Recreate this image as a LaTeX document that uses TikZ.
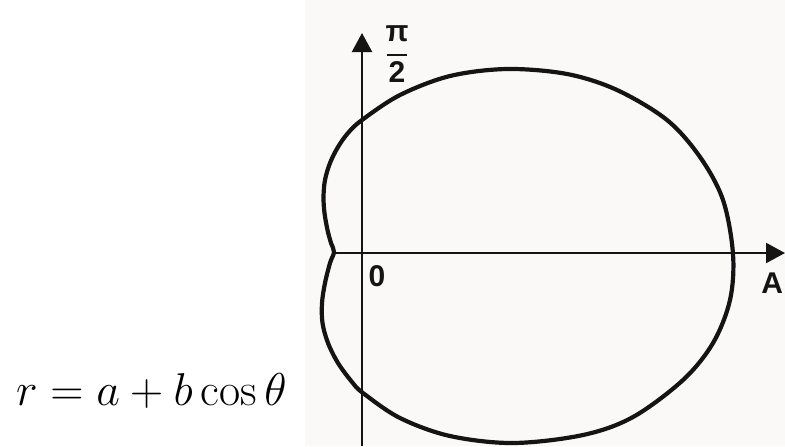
\RequirePackage{fix-cm}
\documentclass[tikz,border=0pt]{standalone}
\usepackage{fontspec}
\setsansfont{Liberation Sans}
\usetikzlibrary{arrows.meta}
\definecolor{cink}{HTML}{141414}
\definecolor{cpaper}{HTML}{FAF9F7}
\tikzset{
  every picture/.style={line width=1.1pt},
  axis/.style={draw=cink, line width=1.1pt, -{Triangle[length=9.5pt, width=10pt]}},
  curve/.style={draw=cink, line width=2.1pt},
  lbl/.style={font=\sffamily\bfseries\fontsize{15}{16}\selectfont, text=cink, inner sep=0pt},
  formula/.style={font=\fontsize{23}{27}\selectfont, inner sep=0pt},
}

\begin{document}
\begin{tikzpicture}[x=0.5pt, y={(0pt,-0.5pt)}]
  \useasboundingbox (0,0) rectangle (785,446);
  \fill[cpaper] (305,0) rectangle (785,446);
  % axes
  \coordinate (ybot) at (362,446);
  \coordinate (ytop) at (362,33);
  \coordinate (xleft) at (333,253);
  \coordinate (xright) at (785,253);
  \draw[axis] (ybot) -- (ytop);
  \draw[axis] (xleft) -- (xright);
  % the curve
  \draw[curve] plot[smooth cycle, tension=0.55] coordinates {
    (334,252) (331,243) (327.5,230) (324.5,213) (323.5,197) (325,180) (330,163) (338,147)
    (348,133) (362,120) (400,95) (450,76) (507,69) (567,74) (617,90) (667,120) (700,157)
    (723,200) (733,254) (730,300) (713,343) (683,380) (633,417) (583,435) (513,443)
    (450,436) (400,418) (363,393) (352,382) (338,363) (328,343) (322.5,323) (322,303)
    (325,283) (330,263)};
  % labels
  \node[lbl, align=center, anchor=north] (halfpi) at (397,25) {π\\[-8.75pt]\rule{10pt}{1pt}\\[-2.75pt]2};
  \node[lbl] (zero) at (377,276) {0};
  \node[lbl, anchor=east] (axisA) at (784,283.5) {A};
  \node[formula, anchor=base west] (eqn) at (15,405) {$r = a + b\cos\theta$};
\end{tikzpicture}
\end{document}
